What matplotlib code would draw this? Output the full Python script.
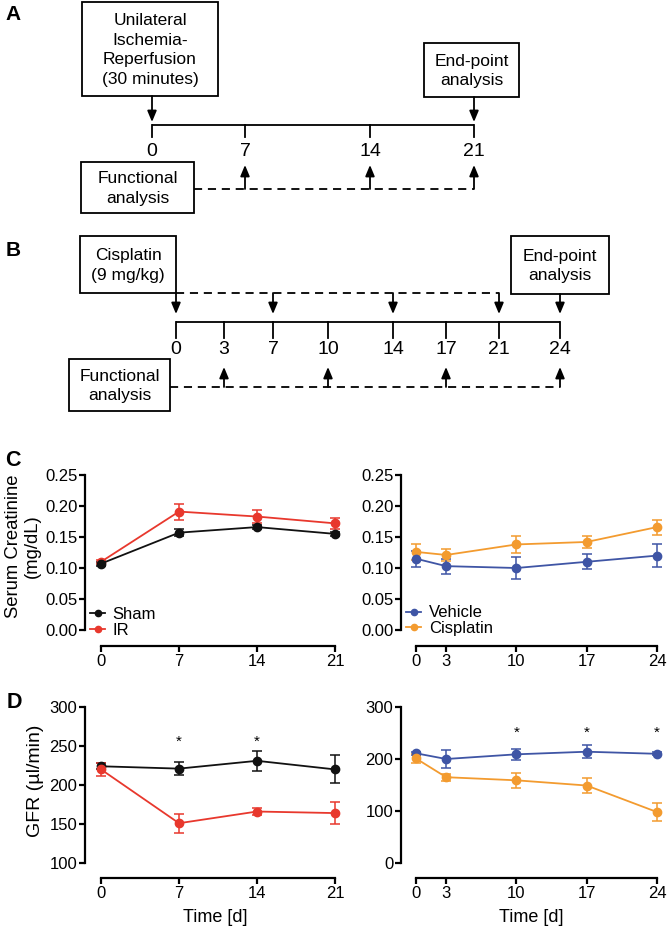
import matplotlib
matplotlib.use("Agg")
import matplotlib.pyplot as plt
from matplotlib.patches import Rectangle

plt.rcParams['font.family'] = ['Liberation Sans', 'DejaVu Sans']

# ---------------- data ----------------
ir_days = [0, 7, 14, 21]
sham_creat = [0.107, 0.157, 0.166, 0.155]
sham_creat_err = [0.003, 0.006, 0.003, 0.003]
ir_creat = [0.110, 0.191, 0.183, 0.172]
ir_creat_err = [0.003, 0.013, 0.010, 0.009]

cis_days = [0, 3, 10, 17, 24]
veh_creat = [0.115, 0.103, 0.100, 0.110, 0.120]
veh_creat_err = [0.013, 0.012, 0.018, 0.012, 0.018]
cis_creat = [0.126, 0.121, 0.138, 0.142, 0.166]
cis_creat_err = [0.013, 0.010, 0.013, 0.009, 0.012]

sham_gfr = [224, 221, 231, 220]
sham_gfr_err = [4, 8, 13, 18]
ir_gfr = [220, 151, 166, 164]
ir_gfr_err = [8, 12, 5, 14]

veh_gfr = [211, 200, 209, 214, 210]
veh_gfr_err = [3, 18, 10, 12, 3]
cis_gfr = [201, 165, 159, 149, 98]
cis_gfr_err = [8, 7, 15, 15, 17]

ir_star_days = [7, 14]
cis_star_days = [10, 17, 24]

timeline_a_labels = ['0', '7', '14', '21']
timeline_b_labels = ['0', '3', '7', '10', '14', '17', '21', '24']

creat_ticks = [0.00, 0.05, 0.10, 0.15, 0.20, 0.25]
gfr_ticks_ir = [100, 150, 200, 250, 300]
gfr_ticks_cis = [0, 100, 200, 300]

# ---------------- style ----------------
BLACK = '#111111'
RED = '#E8382D'
BLUE = '#3F55A5'
ORANGE = '#F39B2F'

W, H = 667, 931
fig = plt.figure(figsize=(W / 100, H / 100), dpi=100)

# diagram axes in pixel coordinates
dax = fig.add_axes([0, 0, 1, 1])
dax.set_xlim(0, W)
dax.set_ylim(H, 0)
dax.axis('off')

LW = 1.3
BOXFS = 12.5
LABFS = 14

def box(x0, y0, x1, y1, text):
    dax.add_patch(Rectangle((x0, y0), x1 - x0, y1 - y0, fill=False, lw=LW, ec='k'))
    dax.text((x0 + x1) / 2, (y0 + y1) / 2 + 1, text, ha='center', va='center',
             fontsize=BOXFS, linespacing=1.4)

def arrow(x, y_from, y_to):
    dax.annotate('', xy=(x, y_to), xytext=(x, y_from),
                 arrowprops=dict(arrowstyle='-|>,head_length=0.6,head_width=0.25',
                                 lw=LW, color='k', shrinkA=0, shrinkB=0,
                                 mutation_scale=11))

def hline(x0, x1, y, dashed=False):
    dax.plot([x0, x1], [y, y], color='k', lw=LW,
             ls=(0, (4.5, 3.2)) if dashed else '-', solid_capstyle='butt')

def timeline(xs, y, tick_len, labels, label_y):
    hline(xs[0], xs[-1], y)
    for x, lab in zip(xs, labels):
        dax.plot([x, x], [y, y + tick_len], color='k', lw=LW)
        dax.text(x, label_y, lab, ha='center', va='center', fontsize=LABFS)

# ---- Panel A ----
fig.text(13 / W, 1 - 15 / H, 'A', fontsize=15, fontweight='bold', ha='center', va='center')
a_x = [152, 245, 370, 474]
box(82, 2, 218, 96, 'Unilateral\nIschemia-\nReperfusion\n(30 minutes)')
box(424, 43, 519, 97, 'End-point\nanalysis')
arrow(a_x[0], 96, 122)
arrow(a_x[-1], 97, 122)
timeline(a_x, 125, 12, timeline_a_labels, 151)
box(81, 162, 194, 213, 'Functional\nanalysis')
hline(194, a_x[-1], 189, dashed=True)
for x in a_x[1:]:
    arrow(x, 189, 165)

# ---- Panel B ----
fig.text(13 / W, 1 - 251 / H, 'B', fontsize=15, fontweight='bold', ha='center', va='center')
b_x = [176, 224, 273, 328, 393, 446, 499, 560]
box(80, 236, 176, 293, 'Cisplatin\n(9 mg/kg)')
box(511, 236, 609, 294, 'End-point\nanalysis')
hline(176, 499, 293, dashed=True)
for i in [0, 2, 4, 6]:
    arrow(b_x[i], 293, 314)
arrow(b_x[-1], 294, 314)
timeline(b_x, 322, 16, timeline_b_labels, 350)
box(69, 359, 170, 411, 'Functional\nanalysis')
hline(170, b_x[-1], 387, dashed=True)
for i in [1, 3, 5, 7]:
    arrow(b_x[i], 387, 367)

# ---------------- charts ----------------
def add_ax(left, top, right, bottom):
    return fig.add_axes([left / W, 1 - bottom / H, (right - left) / W, (bottom - top) / H])

def set_x(ax, axl, axr, p0, p1, d0, d1):
    s = (p1 - p0) / (d1 - d0)
    ax.set_xlim(d0 - (p0 - axl) / s, d1 + (axr - p1) / s)

def style(ax, xticks, yticks, xoff, yfmt):
    ax.set_facecolor('none')
    for s in ['top', 'right']:
        ax.spines[s].set_visible(False)
    ax.spines['bottom'].set_position(('outward', xoff))
    ax.spines['bottom'].set_bounds(xticks[0], xticks[-1])
    ax.spines['left'].set_bounds(yticks[0], yticks[-1])
    for s in ['bottom', 'left']:
        ax.spines[s].set_linewidth(1.6)
    ax.set_xticks(xticks)
    ax.set_yticks(yticks)
    ax.set_yticklabels([yfmt.format(v) for v in yticks])
    ax.tick_params(direction='out', length=4, width=1.6, labelsize=12, pad=1.5, colors='k')

def series(ax, x, y, e, color, label):
    ax.errorbar(x, y, yerr=e, fmt='none', ecolor=color, elinewidth=1.1,
                capsize=3.6, capthick=1.1, clip_on=False, zorder=3)
    ln, = ax.plot(x, y, '-o', color=color, lw=1.3, ms=6, clip_on=False, zorder=4, label=label)
    return ln

LEG = dict(loc='lower left', frameon=False, fontsize=12, handlelength=0.9, handletextpad=0.45,
           labelspacing=0.05, borderaxespad=0, borderpad=0, markerscale=0.75)

# C left
axc1 = add_ax(85, 475, 345, 630)
axc1.set_ylim(0, 0.25)
set_x(axc1, 85, 345, 101, 335, 0, 21)
h2 = series(axc1, ir_days, ir_creat, ir_creat_err, RED, 'IR')
h1 = series(axc1, ir_days, sham_creat, sham_creat_err, BLACK, 'Sham')
style(axc1, ir_days, creat_ticks, 11.5, '{:.2f}')
axc1.legend([h1, h2], ['Sham', 'IR'], bbox_to_anchor=(0.02, -0.05), **LEG)
fig.text(23 / W, 1 - 546 / H, 'Serum Creatinine\n(mg/dL)', rotation=90, fontsize=13.3,
         ha='center', va='center', linespacing=1.12)
fig.text(13 / W, 1 - 461 / H, 'C', fontsize=15.5, fontweight='bold', ha='center', va='center')

# C right
axc2 = add_ax(401, 475, 662, 630)
axc2.set_ylim(0, 0.25)
set_x(axc2, 401, 662, 416, 657, 0, 24)
h3 = series(axc2, cis_days, cis_creat, cis_creat_err, ORANGE, 'Cisplatin')
h4 = series(axc2, cis_days, veh_creat, veh_creat_err, BLUE, 'Vehicle')
style(axc2, cis_days, creat_ticks, 11.5, '{:.2f}')
axc2.legend([h4, h3], ['Vehicle', 'Cisplatin'], bbox_to_anchor=(0.02, -0.04), **LEG)

# D left
axd1 = add_ax(85, 707, 345, 863)
axd1.set_ylim(100, 300)
set_x(axd1, 85, 345, 101, 335, 0, 21)
series(axd1, ir_days, sham_gfr, sham_gfr_err, BLACK, 'Sham')
series(axd1, ir_days, ir_gfr, ir_gfr_err, RED, 'IR')
style(axd1, ir_days, gfr_ticks_ir, 10.8, '{:d}')
fig.text(35 / W, 1 - 781 / H, 'GFR (\u00b5l/min)', rotation=90, fontsize=14,
         ha='center', va='center')
axd1.set_xlabel('Time [d]', fontsize=13, labelpad=6)
for d in ir_star_days:
    axd1.text(d, 255, '*', ha='center', va='center', fontsize=11)
fig.text(14 / W, 1 - 703 / H, 'D', fontsize=15.5, fontweight='bold', ha='center', va='center')

# D right
axd2 = add_ax(401, 707, 662, 863)
axd2.set_ylim(0, 300)
set_x(axd2, 401, 662, 416, 657, 0, 24)
series(axd2, cis_days, veh_gfr, veh_gfr_err, BLUE, 'Vehicle')
series(axd2, cis_days, cis_gfr, cis_gfr_err, ORANGE, 'Cisplatin')
style(axd2, cis_days, gfr_ticks_cis, 10.8, '{:d}')
axd2.set_xlabel('Time [d]', fontsize=13, labelpad=6)
for d in cis_star_days:
    axd2.text(d, 250, '*', ha='center', va='center', fontsize=11)

fig.savefig('out.png', dpi=100)
